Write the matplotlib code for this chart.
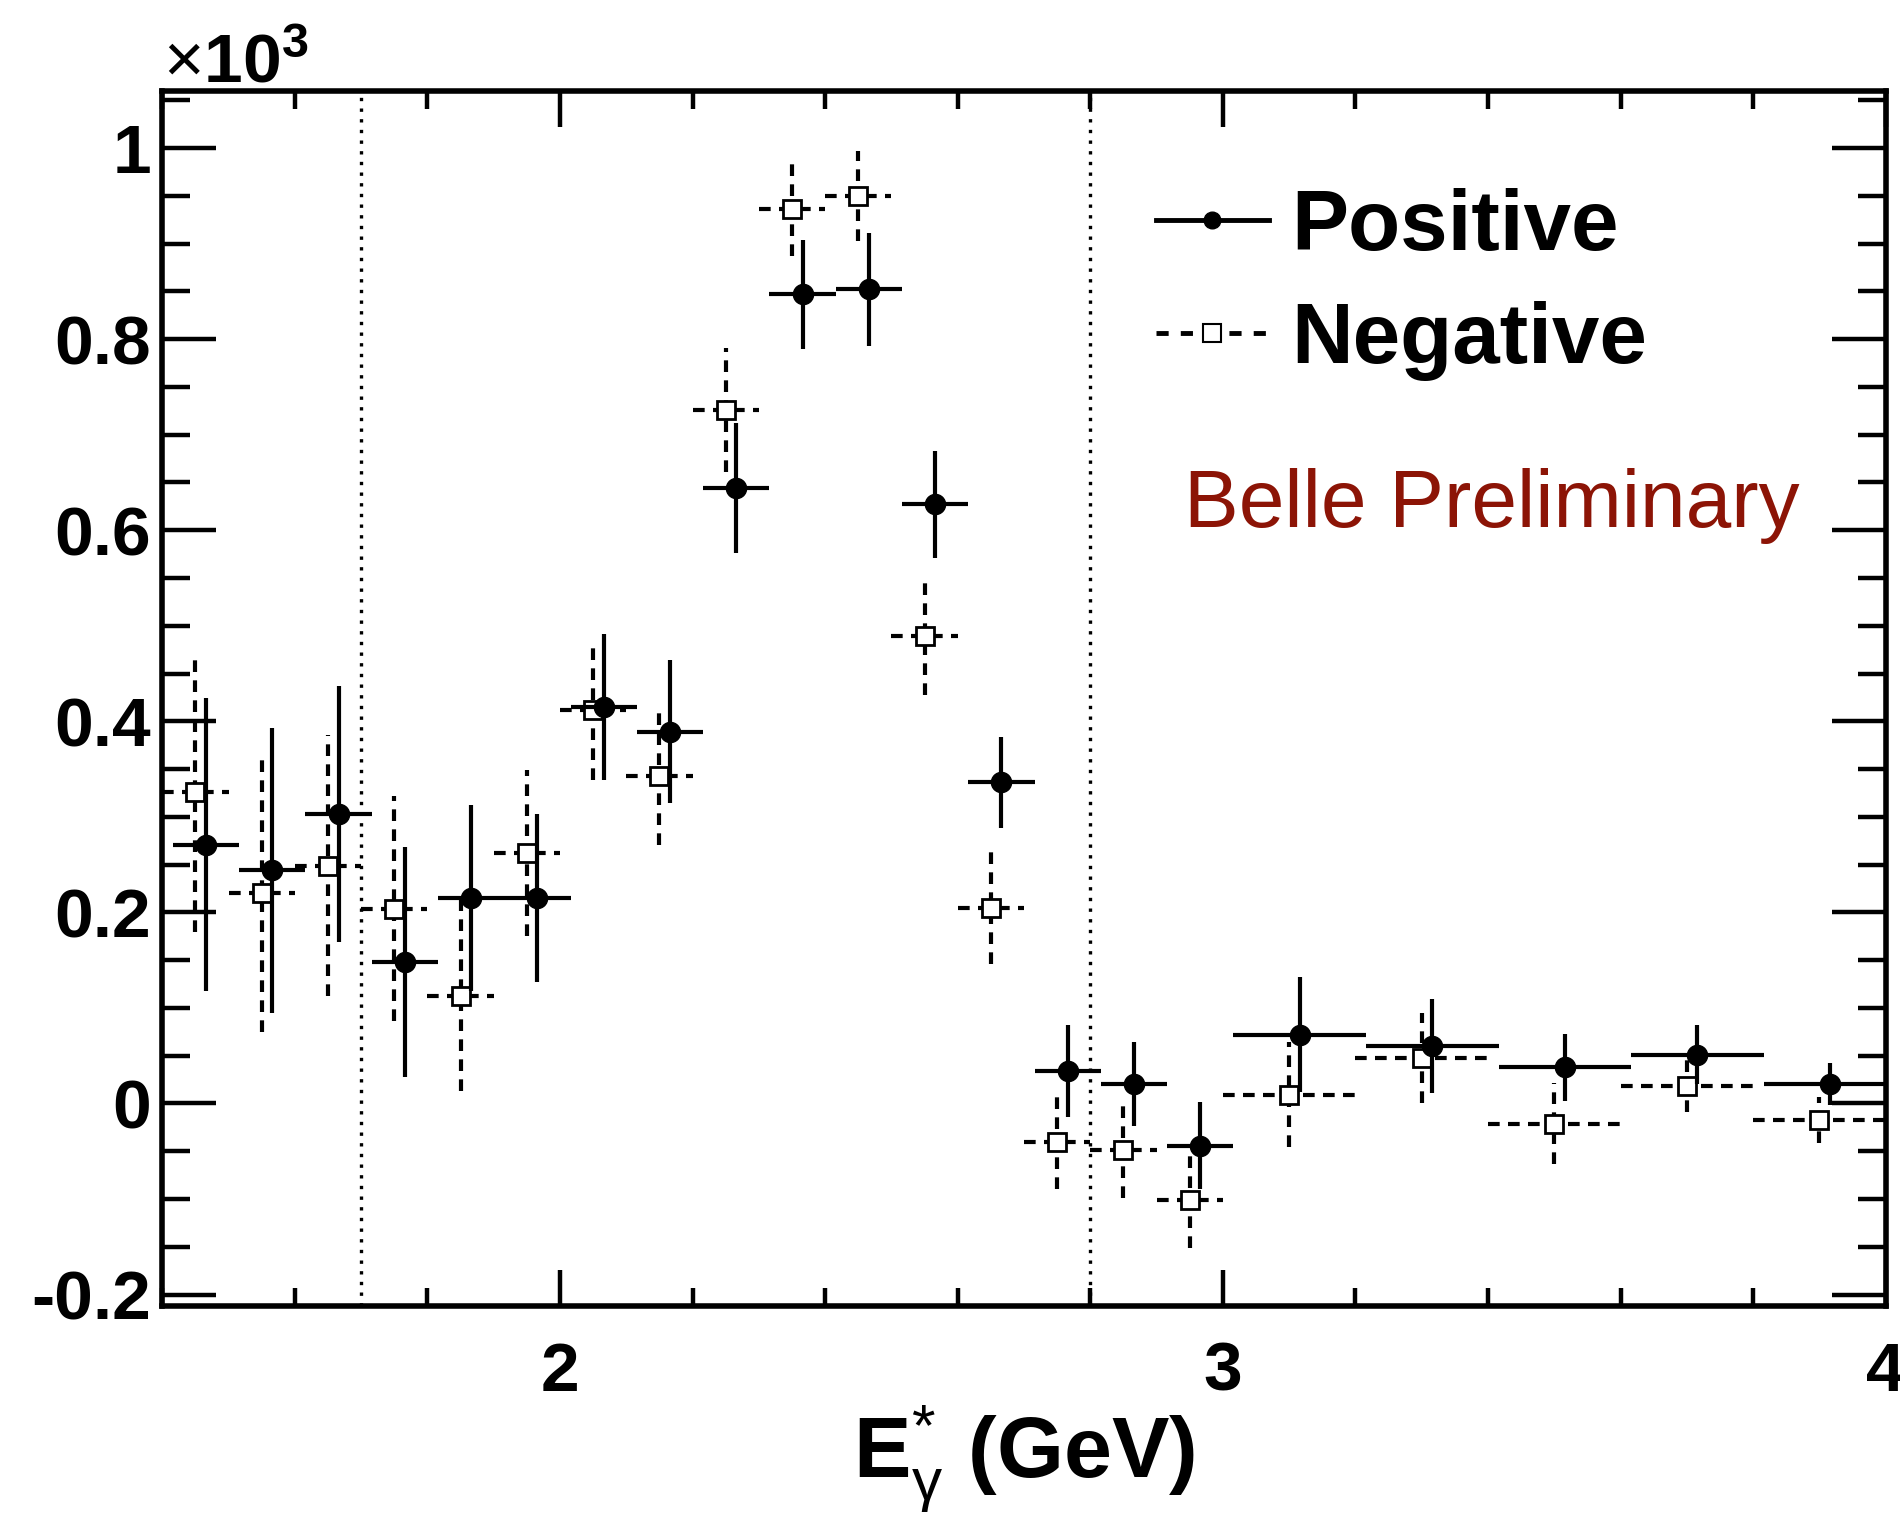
import matplotlib
matplotlib.use('Agg')
import matplotlib.pyplot as plt
from matplotlib.ticker import MultipleLocator, FixedLocator
from matplotlib.lines import Line2D

# ---- data (values in events) ----
bin_centers = [1.45, 1.55, 1.65, 1.75, 1.85, 1.95, 2.05, 2.15, 2.25, 2.35, 2.45,
               2.55, 2.65, 2.75, 2.85, 2.95, 3.1, 3.3, 3.5, 3.7, 3.9]
bin_half = [0.05] * 16 + [0.1] * 5

pos_counts = [271, 244, 303, 148, 215, 215, 415, 389, 644, 847, 852,
              627, 336, 34, 20, -44, 72, 60, 38, 51, 20]
pos_err = [153, 149, 134, 120, 97, 88, 76, 75, 68, 57, 59,
           56, 48, 48, 44, 46, 60, 49, 35, 31, 22]

neg_counts = [326, 220, 249, 204, 113, 262, 412, 343, 726, 936, 950,
              489, 205, -40, -49, -101, 9, 48, -21, 18, -17]
neg_err = [147, 145, 137, 118, 100, 87, 73, 73, 65, 49, 47,
           61, 59, 50, 50, 50, 55, 47, 42, 27, 24]

signal_window = [1.7, 2.8]
y_ticks = [-0.2, 0, 0.2, 0.4, 0.6, 0.8, 1.0]
y_tick_labels = ['-0.2', '0', '0.2', '0.4', '0.6', '0.8', '1']
x_ticks = [2, 3, 4]
x_tick_labels = ['2', '3', '4']

plt.rcParams['font.family'] = ['Liberation Sans', 'DejaVu Sans']
plt.rcParams['mathtext.fontset'] = 'custom'
plt.rcParams['mathtext.rm'] = 'Liberation Sans'
plt.rcParams['mathtext.bf'] = 'Liberation Sans:bold'
plt.rcParams['mathtext.it'] = 'Liberation Sans:italic'

belle_red = '#8c1406'
pos_shift = 0.016  # positive points drawn slightly to the right, as in the original

fig = plt.figure(figsize=(19, 15.16), dpi=100)
ax = fig.add_axes([0.0854, 0.1385, 0.9071, 0.8017])

scale = 1e3
pos_x = [c + pos_shift for c in bin_centers]
pos_y = [v / scale for v in pos_counts]
pos_e = [v / scale for v in pos_err]
neg_y = [v / scale for v in neg_counts]
neg_e = [v / scale for v in neg_err]

# negative first (open squares, dashed errors)
eb_neg = ax.errorbar(bin_centers, neg_y, xerr=bin_half, yerr=neg_e, fmt='s',
                     color='black', ms=13.5, mfc='white', mec='black', mew=2,
                     elinewidth=3, capsize=0, zorder=3)
for coll in eb_neg[2]:
    coll.set_linestyle((0, (2.8, 2)))

ax.errorbar(pos_x, pos_y, xerr=bin_half, yerr=pos_e, fmt='o',
            color='black', ms=14.5, elinewidth=3, capsize=0, zorder=4)

for xv in signal_window:
    ax.axvline(xv, color='black', lw=2.4, ls=(0, (1, 2.2)), zorder=1)

ax.set_xlim(1.4, 4.0)
ax.set_ylim(-0.212, 1.06)

ax.xaxis.set_major_locator(FixedLocator(x_ticks))
ax.set_xticklabels(x_tick_labels)
ax.xaxis.set_minor_locator(MultipleLocator(0.2))
ax.yaxis.set_major_locator(FixedLocator(y_ticks))
ax.set_yticklabels(y_tick_labels)
ax.yaxis.set_minor_locator(MultipleLocator(0.05))

ax.tick_params(which='both', direction='in', top=True, right=True, width=3.2)
ax.tick_params(axis='x', which='major', length=26, pad=25, labelsize=50)
ax.tick_params(axis='x', which='minor', length=13)
ax.tick_params(axis='y', which='major', length=39, pad=8, labelsize=50)
ax.tick_params(axis='y', which='minor', length=20)
for lab in ax.get_xticklabels() + ax.get_yticklabels():
    lab.set_fontweight('bold')
for sp in ax.spines.values():
    sp.set_linewidth(4)

ax.set_xlabel(r'$\mathbf{E}_{\mathrm{\gamma}}^{*}$ (GeV)', fontsize=62, fontweight='bold')
ax.xaxis.set_label_coords(0.5, -0.08)

fig.text(0.0858, 0.9453, r'$\times\mathbf{10^{3}}$', fontsize=50,
         ha='left', va='baseline')

ax.text(0.5928, 0.641, 'Belle Preliminary', transform=ax.transAxes,
        fontsize=59, color=belle_red, ha='left', va='baseline')

h_pos = Line2D([], [], color='black', lw=3.5, marker='o', ms=12)
h_neg = Line2D([], [], color='black', lw=3.5, ls=(0, (2.5, 2.5)), marker='s',
               ms=13, mfc='white', mec='black', mew=1.5)
ax.legend([h_pos, h_neg], ['Positive', 'Negative'], loc='upper left',
          bbox_to_anchor=(0.5766, 0.92), frameon=False, borderpad=0,
          borderaxespad=0, handlelength=1.32, handletextpad=0.26,
          labelspacing=0.39, numpoints=1,
          prop={'family': 'Liberation Sans', 'weight': 'bold', 'size': 61.5})

fig.savefig('out.png', dpi=100)
